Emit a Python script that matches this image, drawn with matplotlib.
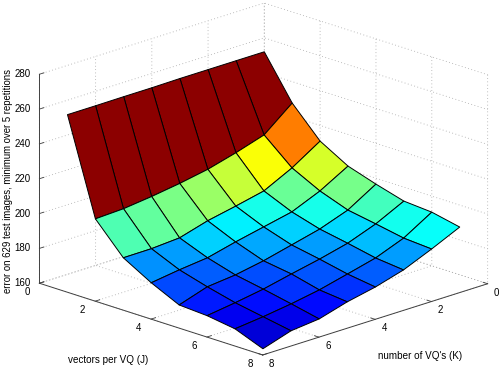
import numpy as np
import matplotlib
matplotlib.use("Agg")
import matplotlib.pyplot as plt
from matplotlib.colors import LinearSegmentedColormap
from mpl_toolkits.mplot3d import proj3d

plt.rcParams["font.family"] = ["Liberation Sans", "DejaVu Sans"]

# K across columns, J down rows
k_vals = [0, 1, 2, 3, 4, 5, 6, 7]
j_vals = [0, 1, 2, 3, 4, 5, 6, 7]
err_j0 = [252, 252, 252, 252, 251.8, 251.8, 251.7, 251.7]
err_j1 = [227.7, 214.5, 209.4, 205, 202, 199.6, 197.7, 197]
err_j2 = [211, 200.7, 192.6, 189, 185.7, 181, 179.9, 179.8]
err_j3 = [201.8, 192.6, 185.7, 182.2, 178.7, 174.7, 172.9, 170.6]
err_j4 = [196.6, 186.8, 181, 177, 173, 170, 168.3, 163]
err_j5 = [192, 184, 178, 174, 170.6, 167, 164.3, 162]
err_j6 = [190.8, 181, 174.7, 170.6, 166.6, 163.7, 161.4, 159.6]
err_j7 = [187.4, 179.9, 173, 168.3, 164.9, 160.2, 158.5, 153.3]
xy_ticks = [0, 2, 4, 6, 8]
z_ticks = [160, 180, 200, 220, 240, 260, 280]

err = np.array([err_j0, err_j1, err_j2, err_j3, err_j4, err_j5, err_j6, err_j7])
K, J = np.meshgrid(k_vals, j_vals)

# matlab's jet, matplotlib's own is a bit different
matlab_jet = LinearSegmentedColormap("matlab_jet", {
    "red": [(0, 0, 0), (0.375, 0, 0), (0.625, 1, 1), (0.875, 1, 1), (1, 0.55, 0.55)],
    "green": [(0, 0, 0), (0.125, 0, 0), (0.375, 1, 1), (0.625, 1, 1), (0.875, 0, 0), (1, 0, 0)],
    "blue": [(0, 0.55, 0.55), (0.125, 1, 1), (0.375, 1, 1), (0.625, 0, 0), (1, 0, 0)],
})
colors = matlab_jet((err - err.min()) / (err.max() - err.min()))

W, H, A = 504, 392, 560
fig = plt.figure(figsize=(W / 100, H / 100), dpi=100)
ax = fig.add_axes([(263.5 - 0.5135 * A) / W, (213 - 0.5135 * A) / H, A / W, A / H],
                  projection="3d")
ax.set_proj_type("ortho")
ax.view_init(elev=18.6, azim=45.2)
ax.set_box_aspect((1, 1, 0.6956), zoom=0.866)
ax.patch.set_alpha(0)

ax.plot_surface(K, J, err, facecolors=colors, rstride=1, cstride=1, shade=False,
                edgecolor="black", linewidth=0.7, antialiased=True)

ax.set_xlim(0, 8); ax.set_ylim(0, 8); ax.set_zlim(160, 280)
ax.set_xticks(xy_ticks); ax.set_yticks(xy_ticks); ax.set_zticks(z_ticks)
ax.set_xticklabels([]); ax.set_yticklabels([]); ax.set_zticklabels([])

for axis in (ax.xaxis, ax.yaxis, ax.zaxis):
    axis.set_pane_color((1, 1, 1, 0))
    axis.pane.set_edgecolor((1, 1, 1, 0))
    axis.line.set_color("#404040")
    axis.line.set_linewidth(0.7)
    axis._axinfo["grid"].update(color="#a8a8a8", linewidth=0.6, linestyle=(0, (1, 3)))
    axis._axinfo["tick"].update(inward_factor=0.0, outward_factor=0.25)
    axis._axinfo["tick"]["linewidth"] = {True: 0.6, False: 0.6}
ax.zaxis.set_ticks_position("lower")
ax.tick_params(color="#404040")


def tick_text(kv, jv, zv, label):
    # the 3d pad only moves labels along one direction, so project them here
    xp, yp, _ = proj3d.proj_transform(kv, jv, zv, ax.get_proj())
    ax.text2D(xp, yp, label, transform=ax.transData, fontsize=7, ha="center", va="center")


for t in xy_ticks:
    tick_text(t, 8.32, 156.6, str(t))
    tick_text(8.445, t, 157.2, str(t))
for t in z_ticks:
    tick_text(8.6, 0, t + 3.1, str(t))

fig.text(68 / W, 1 - 360 / H, "vectors per VQ (J)", fontsize=7.15, va="center")
fig.text(378 / W, 1 - 356 / H, "number of VQ's (K)", fontsize=7.15, va="center")
fig.text(8 / W, 1 - 181 / H, "error on 629 test images, minimum over 5 repetitions",
         fontsize=6.95, rotation=90, ha="center", va="center")

fig.savefig("out.png", dpi=100)
